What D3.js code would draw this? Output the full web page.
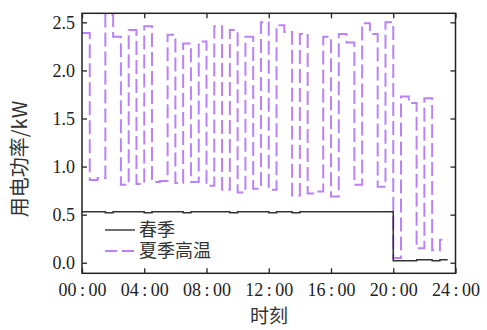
<!DOCTYPE html>
<html>
<head>
<meta charset="utf-8">
<script src="https://cdn.jsdelivr.net/npm/d3@7"></script>
<style>
body{margin:0;background:#fff;}
svg{display:block;}
</style>
</head>
<body>
<svg id="chart" width="487" height="330"></svg>
<script>
//half-hour readings, 00:00 .. 23:30
var hours = d3.range(0,24,0.5);

var spring = [0.53,0.53,0.53,0.52,0.53,0.53,0.53,0.53,0.52,0.53,0.53,0.53,
	0.53,0.52,0.53,0.53,0.53,0.53,0.53,0.52,0.53,0.53,0.53,0.53,
	0.52,0.53,0.53,0.52,0.53,0.53,0.53,0.53,0.53,0.53,0.53,0.53,
	0.53,0.53,0.53,0.53,0.02,0.02,0.02,0.03,0.03,0.02,0.03,0.03];

var summer = [2.39,0.86,0.88,2.58,2.35,0.81,2.42,0.82,2.46,0.84,0.85,2.37,
	0.83,2.28,0.84,2.30,0.80,2.46,0.76,2.42,0.73,2.35,0.77,2.50,
	0.76,2.47,2.40,0.70,2.38,0.72,0.74,2.35,0.69,2.38,2.29,0.81,
	2.49,2.38,0.79,2.50,0.05,1.73,1.66,0.15,1.71,0.13,0.24,0.24];

var xTicks = [0,4,8,12,16,20,24];
var yTicks = [0,0.5,1,1.5,2,2.5];
var legendNames = ["春季","夏季高温"];

var NUMFONT = "'Liberation Serif', 'Times New Roman', 'DejaVu Serif', serif";
var CJKFONT = "'Noto Sans CJK SC', sans-serif";

// plot box ("top" is taken by window.top, so prefixed)
var pLeft = 82, pRight = 455.5, pTop = 13.3, pBottom = 273.3;
var svg = d3.select("#chart");

var x = d3.scaleLinear().domain([0,24]).range([pLeft,pRight]);
var y = d3.scaleLinear().domain([-0.11,2.594]).range([pBottom,pTop]);

function fmtHour(h){
	return (h<10 ? "0"+h : ""+h) + "\u2009:\u200900";
}

//axes, ticks pointing inward on all four sides
var gx = svg.append("g").attr("transform","translate(0,"+pBottom+")")
	.call(d3.axisBottom(x).tickValues(xTicks).tickFormat(fmtHour).tickSizeInner(-5).tickSizeOuter(0).tickPadding(10));
var gxt = svg.append("g").attr("transform","translate(0,"+pTop+")")
	.call(d3.axisTop(x).tickValues(xTicks).tickFormat("").tickSizeInner(-5).tickSizeOuter(0));
var gy = svg.append("g").attr("transform","translate("+pLeft+",0)")
	.call(d3.axisLeft(y).tickValues(yTicks).tickFormat(d3.format(".1f")).tickSizeInner(-5).tickSizeOuter(0).tickPadding(7));
var gyr = svg.append("g").attr("transform","translate("+pRight+",0)")
	.call(d3.axisRight(y).tickValues(yTicks).tickFormat("").tickSizeInner(-5).tickSizeOuter(0));

[gx,gxt,gy,gyr].forEach(function(g){
	g.attr("font-family",NUMFONT).attr("font-size",18);
	g.select(".domain").remove();
	g.selectAll("line").attr("stroke","#222").attr("stroke-width",1.3);
	g.selectAll("text").attr("fill","#222");
});

//series
var line = d3.line()
	.x(function(d,i){ return x(hours[i]); })
	.y(function(d){ return y(d); })
	.curve(d3.curveStepAfter);

svg.append("path").datum(summer)
	.attr("d",line)
	.attr("fill","none")
	.attr("stroke","#bb82f8")
	.attr("stroke-width",2)
	.attr("stroke-dasharray","14,5");

svg.append("path").datum(spring)
	.attr("d",line)
	.attr("fill","none")
	.attr("stroke","#333")
	.attr("stroke-width",1.5);

//frame
svg.append("rect")
	.attr("x",pLeft).attr("y",pTop)
	.attr("width",pRight-pLeft).attr("height",pBottom-pTop)
	.attr("fill","none").attr("stroke","#222").attr("stroke-width",1.5);

//legend
var lg = svg.append("g").attr("transform","translate(105,230)");
lg.append("line").attr("x1",0).attr("x2",30).attr("y1",0).attr("y2",0)
	.attr("stroke","#222").attr("stroke-width",1.3);
lg.append("line").attr("x1",0).attr("x2",30).attr("y1",21).attr("y2",21)
	.attr("stroke","#bb82f8").attr("stroke-width",2).attr("stroke-dasharray","12,5");
lg.selectAll("text.lab").data(legendNames).enter().append("text")
	.attr("class","lab")
	.attr("x",34)
	.attr("y",function(d,i){ return i*21 + 6; })
	.attr("font-family",CJKFONT).attr("font-size",18).attr("fill","#333")
	.text(function(d){ return d; });

//axis titles
svg.append("text")
	.attr("x",269).attr("y",323)
	.attr("text-anchor","middle")
	.attr("font-family",CJKFONT).attr("font-size",19).attr("fill","#333")
	.text("时刻");
svg.append("text")
	.attr("transform","translate(27,159) rotate(-90)")
	.attr("text-anchor","middle")
	.attr("font-family",CJKFONT).attr("font-size",20).attr("fill","#333")
	.text("用电功率/kW");
</script>
</body>
</html>
